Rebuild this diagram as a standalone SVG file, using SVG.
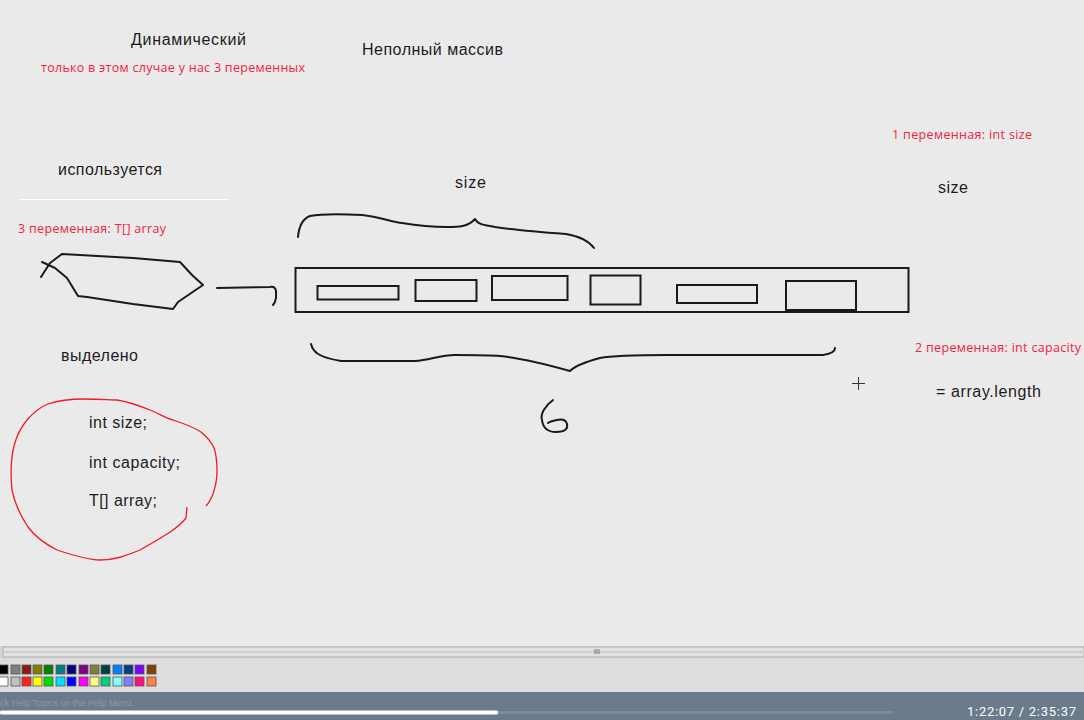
<svg xmlns="http://www.w3.org/2000/svg" width="1084" height="720" viewBox="0 0 1084 720">
<style>
.t{font-family:"Liberation Sans",Arial,sans-serif;font-size:16px;fill:#1c1c1c}
.r{font-family:"Open Sans","Noto Sans","Liberation Sans",sans-serif;font-size:12.5px;fill:#f2233d}
.ink{fill:none;stroke:#1a1a1a;stroke-width:2;stroke-linecap:round;stroke-linejoin:round}
.box{fill:none;stroke:#1a1a1a;stroke-width:2}
.red{fill:none;stroke:#ee1c24;stroke-width:1.3;stroke-linejoin:round}
.sw{stroke:#555;stroke-width:0.8}
</style>
<rect x="0" y="0" width="1084" height="720" fill="#eaeaeb"/>
<g id="texts">
<text class="t" x="131" y="45" textLength="115">Динамический</text>
<text class="r" x="41" y="72" textLength="264">только в этом случае у нас 3 переменных</text>
<text class="t" x="362" y="55" textLength="141">Неполный массив</text>
<text class="t" x="58" y="175" textLength="104">используется</text>
<text class="t" x="455" y="188" textLength="31">size</text>
<text class="t" x="938" y="193" textLength="30">size</text>
<text class="r" x="892" y="139" textLength="140">1 переменная: int size</text>
<text class="r" x="18" y="233" textLength="148">3 переменная: T[] array</text>
<text class="t" x="61" y="361" textLength="77">выделено</text>
<text class="r" x="915" y="352" textLength="166">2 переменная: int capacity</text>
<text class="t" x="936" y="397" textLength="105">= array.length</text>
</g>
<line x1="20" y1="199.5" x2="229" y2="199.5" stroke="#ffffff" stroke-width="1"/>
<g id="pointer-shape">
<path class="ink" d="M42,262 L55,268 L67,278 L78,296 L87,297 L133,304 L173,309 L178,302 L203,285 L192,275 L180,262 L133,258 L62,254 L50,263 L41,277"/>
</g>
<g id="connectors">
<path class="ink" d="M217,288 L270,287 Q275,286 276,291 L276,298 Q275,303 273,305"/>
</g>
<g id="array">
<rect class="box" x="295.5" y="268" width="613" height="44"/>
<rect class="box" x="317.5" y="286" width="81" height="13.5"/>
<rect class="box" x="415.5" y="280" width="61" height="21"/>
<rect class="box" x="492" y="276" width="75.5" height="24"/>
<rect class="box" x="590.5" y="275.5" width="50" height="29"/>
<rect class="box" x="677" y="285" width="80" height="18"/>
<rect class="box" x="786" y="281" width="70" height="29"/>
</g>
<g id="top-brace">
<path class="ink" d="M298,237 C299,226 302,219 310,216 C325,213 345,214 362,215 C380,217 392,222 402,223 C420,226 435,227 447,227 C458,227 468,227 475,219 C478,225 485,225 495,227 C515,230 540,232 566,234 C578,236 588,240 594,248"/>
</g>
<g id="bottom-brace">
<path class="ink" d="M311,344 C313,352 318,357 341,361 C380,361 400,361 415,361 C430,360 440,355 455,355 C475,355 490,355 500,356 C520,358 545,364 570,371 C575,366 585,362 600,358 C615,355 640,355 668,355 C720,355 780,355 823,355 C830,354 835,352 835,348"/>
<path class="ink" d="M553,400 C545,406 540,414 542,420 C543,428 548,432 556,432 C566,432 568,428 567,424 C566,420 562,419 557,420 C552,421 549,422 548,423"/>
</g>
<g id="cursor" stroke="#333" stroke-width="1">
<line x1="852" y1="383.5" x2="865" y2="383.5"/>
<line x1="858.5" y1="377" x2="858.5" y2="390"/>
</g>
<g id="fields">
<path class="red" d="M187,507 L186,518 C178,528 168,534 140,550 C125,556 115,560 100,560 C88,560 75,556 57,550 C43,543 34,535 28,527 C20,515 14,500 12,490 C10,470 11,458 14,446 C17,434 22,426 27,420 C34,412 40,407 48,404 C60,400 72,399 84,399 C100,399 110,400 117,400 C130,402 140,406 150,410 C160,414 165,418 173,420 C185,424 195,428 201,432 C208,438 212,443 214,448 C217,456 217,465 217,472 C217,480 215,488 213,494 C211,499 209,503 206,506"/>
<text class="t" x="89" y="428" textLength="58">int size;</text>
<text class="t" x="89" y="468" textLength="91">int capacity;</text>
<text class="t" x="89" y="506" textLength="68">T[] array;</text>
</g>
<g id="paint-ui">
<rect x="0" y="646" width="1084" height="12" fill="#d4d4d4"/>
<rect x="3" y="647" width="1081" height="10" fill="#e2e2e2" stroke="#b0b0b0" stroke-width="1"/>
<line x1="3" y1="652" x2="1084" y2="652" stroke="#cfcfcf" stroke-width="2"/>
<g stroke="#666" stroke-width="0.8"><line x1="595" y1="649" x2="595" y2="654"/><line x1="597" y1="649" x2="597" y2="654"/><line x1="599" y1="649" x2="599" y2="654"/></g>
<rect x="0" y="658" width="1084" height="34" fill="#dddddd"/>
<g class="sw">
<rect x="-1" y="665" width="9" height="9" fill="#000000"/>
<rect x="11" y="665" width="9" height="9" fill="#808080"/>
<rect x="22" y="665" width="9" height="9" fill="#8b1a1a"/>
<rect x="33" y="665" width="9" height="9" fill="#808000"/>
<rect x="44" y="665" width="9" height="9" fill="#008000"/>
<rect x="56" y="665" width="9" height="9" fill="#008080"/>
<rect x="67" y="665" width="9" height="9" fill="#000080"/>
<rect x="79" y="665" width="9" height="9" fill="#800080"/>
<rect x="90" y="665" width="9" height="9" fill="#808040"/>
<rect x="101" y="665" width="9" height="9" fill="#004040"/>
<rect x="113" y="665" width="9" height="9" fill="#0080ff"/>
<rect x="124" y="665" width="9" height="9" fill="#004080"/>
<rect x="135" y="665" width="9" height="9" fill="#8000ff"/>
<rect x="147" y="665" width="9" height="9" fill="#804000"/>
<rect x="-1" y="677" width="9" height="9" fill="#ffffff"/>
<rect x="11" y="677" width="9" height="9" fill="#c0c0c0"/>
<rect x="22" y="677" width="9" height="9" fill="#ff2020"/>
<rect x="33" y="677" width="9" height="9" fill="#ffff00"/>
<rect x="44" y="677" width="9" height="9" fill="#00e000"/>
<rect x="56" y="677" width="9" height="9" fill="#00e0ff"/>
<rect x="67" y="677" width="9" height="9" fill="#0000ff"/>
<rect x="79" y="677" width="9" height="9" fill="#ff00ff"/>
<rect x="90" y="677" width="9" height="9" fill="#ffff80"/>
<rect x="101" y="677" width="9" height="9" fill="#00d080"/>
<rect x="113" y="677" width="9" height="9" fill="#80ffff"/>
<rect x="124" y="677" width="9" height="9" fill="#8080ff"/>
<rect x="135" y="677" width="9" height="9" fill="#ff1080"/>
<rect x="147" y="677" width="9" height="9" fill="#ff8040"/>
</g>
<rect x="0" y="692" width="1084" height="28" fill="#6c7b8b"/>
<text x="0" y="706" font-family="'Liberation Sans',Arial,sans-serif" font-size="9px" fill="#8a97a5">ck Help Topics on the Help Menu.</text>
<rect x="0" y="711" width="893" height="3" fill="#7d8a98"/>
<rect x="0" y="710.5" width="498" height="4" rx="1.5" fill="#ffffff"/>
<text x="1076" y="716" text-anchor="end" font-family="Roboto,'Liberation Sans',sans-serif" font-size="13px" fill="#ffffff" textLength="109">1:22:07 / 2:35:37</text>
</g>
</svg>
